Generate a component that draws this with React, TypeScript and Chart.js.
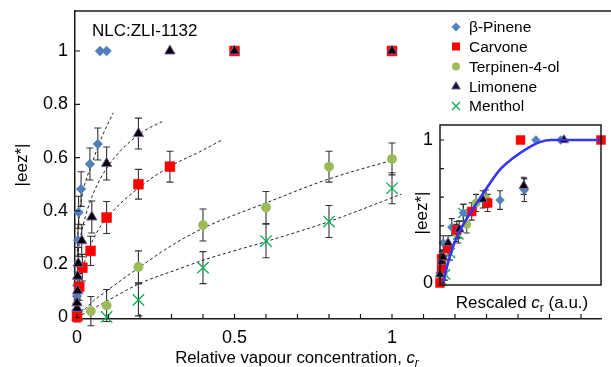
import React, { useEffect, useRef } from 'react';
import { Chart, registerables } from 'chart.js';
Chart.register(...registerables);

const FONT = '"Liberation Sans", Arial, Helvetica, sans-serif';

// ---------- main chart data ----------
const pineneX = [0.0, 0.0, 0.001, 0.003, 0.005, 0.013, 0.041, 0.066, 0.073, 0.094];
const pineneY = [0.05, 0.08, 0.12, 0.29, 0.395, 0.482, 0.576, 0.651, 1, 1];
const pineneErr = [0.04, 0.05, 0.05, 0.06, 0.06, 0.065, 0.06, 0.06, 0, 0];

const carvoneX = [0.0, 0.007, 0.017, 0.043, 0.094, 0.195, 0.295, 0.5, 1.0];
const carvoneY = [0.003, 0.115, 0.187, 0.25, 0.375, 0.5, 0.566, 1, 1];
const carvoneErr = [0.02, 0.05, 0.05, 0.055, 0.06, 0.056, 0.058, 0, 0];

const terpX = [0.044, 0.094, 0.195, 0.4, 0.6, 0.8, 1.0];
const terpY = [0.024, 0.045, 0.19, 0.347, 0.413, 0.566, 0.595];
const terpErr = [0.055, 0.06, 0.06, 0.06, 0.06, 0.058, 0.06];

const limX = [0.0, 0.0, 0.002, 0.002, 0.004, 0.015, 0.047, 0.094, 0.195, 0.295, 0.5, 1.0];
const limY = [0.035, 0.055, 0.1, 0.155, 0.203, 0.288, 0.377, 0.578, 0.69, 1, 1, 1];
const limErr = [0.03, 0.04, 0.05, 0.05, 0.06, 0.06, 0.06, 0.062, 0.058, 0, 0, 0];

const mentholX = [0.002, 0.094, 0.195, 0.4, 0.6, 0.8, 1.0];
const mentholY = [0.01, 0.002, 0.066, 0.187, 0.287, 0.36, 0.485];
const mentholErr = [0.02, 0, 0.06, 0.06, 0.063, 0.06, 0.058];

// dashed fit curves
const pineneFitX = [0, 0.001, 0.004, 0.01, 0.02, 0.047, 0.08, 0.115];
const pineneFitY = [0, 0.22, 0.33, 0.41, 0.478, 0.576, 0.68, 0.768];
const limFitX = [0, 0.002, 0.01, 0.02, 0.05, 0.1, 0.2, 0.27];
const limFitY = [0, 0.17, 0.29, 0.35, 0.46, 0.57, 0.69, 0.735];
const carvoneFitX = [0, 0.005, 0.02, 0.05, 0.1, 0.2, 0.3, 0.39, 0.46];
const carvoneFitY = [0, 0.1, 0.19, 0.29, 0.38, 0.49, 0.57, 0.622, 0.666];
const terpFitX = [0, 0.05, 0.1, 0.2, 0.3, 0.4, 0.6, 0.8, 1.015];
const terpFitY = [0, 0.06, 0.105, 0.19, 0.27, 0.335, 0.43, 0.52, 0.595];
const mentholFitX = [0, 0.1, 0.2, 0.33, 0.4, 0.6, 0.8, 1.03];
const mentholFitY = [0, 0.065, 0.128, 0.185, 0.215, 0.285, 0.36, 0.463];

const xTickValues = [0, 0.1, 0.2, 0.3, 0.4, 0.5, 0.6, 0.7, 0.8, 0.9, 1.0, 1.1, 1.2, 1.3, 1.4, 1.5, 1.6];
const xTickLabels = ['0', '', '', '', '', '0.5', '', '', '', '', '1', '', '', '', '', '', ''];
const yTickValues = [0, 0.2, 0.4, 0.6, 0.8, 1];
const yTickLabels = ['0', '0.2', '0.4', '0.6', '0.8', '1'];

const seriesNames = ['β-Pinene', 'Carvone', 'Terpinen-4-ol', 'Limonene', 'Menthol'];

// ---------- inset data ----------
const insetPineneX = [0.0, 0.02, 0.073, 0.145, 0.373, 0.524, 0.596, 0.75];
const insetPineneY = [0.07, 0.28, 0.39, 0.49, 0.58, 0.65, 1, 1];
const insetPineneErr = [0.04, 0.05, 0.06, 0.06, 0.065, 0.08, 0, 0];
const insetCarvoneX = [0.0, 0.01, 0.01, 0.05, 0.104, 0.197, 0.296, 0.5, 1.0];
const insetCarvoneY = [0.0, 0.1, 0.17, 0.24, 0.37, 0.5, 0.56, 1, 1];
const insetCarvoneErr = [0.02, 0.04, 0.05, 0.05, 0.06, 0.06, 0.06, 0, 0];
const insetTerpX = [0.02, 0.1, 0.166, 0.224, 0.286];
const insetTerpY = [0.06, 0.35, 0.41, 0.56, 0.59];
const insetTerpErr = [0.04, 0.06, 0.06, 0.06, 0.06];
const insetLimX = [0.0, 0.01, 0.02, 0.05, 0.12, 0.265, 0.52, 0.77];
const insetLimY = [0.06, 0.15, 0.18, 0.28, 0.375, 0.585, 0.68, 1];
const insetLimErr = [0.03, 0.04, 0.05, 0.05, 0.06, 0.06, 0.06, 0];
const insetMentholX = [0.01, 0.031, 0.062, 0.114, 0.145];
const insetMentholY = [0.02, 0.06, 0.21, 0.34, 0.49];
const insetMentholErr = [0.03, 0.04, 0.05, 0.06, 0.06];
const insetCurveX = [0.02, 0.04, 0.07, 0.1, 0.15, 0.2, 0.27, 0.37, 0.45, 0.54, 0.62, 0.69, 1.0];
const insetCurveY = [0, 0.1, 0.22, 0.31, 0.42, 0.51, 0.63, 0.79, 0.87, 0.94, 0.985, 1, 1];
const insetYTickValues = [0, 0.2, 0.4, 0.6, 0.8, 1];
const insetYTickLabels = ['0', '', '', '', '', '1'];

// ---------- styles ----------
const PINENE_C = '#4F81BD';
const CARVONE_C = '#FF0000';
const TERP_C = '#9BBB59';
const LIM_C = '#000000';
const LIM_EDGE = '#7F5FA8';
const MENTHOL_C = '#00B050';
const AXIS_C = '#1a1a1a';

const pts = (xs: number[], ys: number[]) => xs.map((x, i) => ({ x, y: ys[i] }));

function markerSets(s: number) {
  return [
    { name: seriesNames[0], pointStyle: 'rectRot', pointRadius: 4.9 * s, pointBackgroundColor: PINENE_C, pointBorderColor: PINENE_C, pointBorderWidth: 0.5, order: 3 },
    { name: seriesNames[1], pointStyle: 'rect', pointRadius: 7 * s, pointBackgroundColor: CARVONE_C, pointBorderColor: CARVONE_C, pointBorderWidth: 0.5, order: 2 },
    { name: seriesNames[2], pointStyle: 'circle', pointRadius: 4.7 * s, pointBackgroundColor: TERP_C, pointBorderColor: TERP_C, pointBorderWidth: 0.5, order: 4 },
    { name: seriesNames[3], pointStyle: 'triangle', pointRadius: 6 * s, pointBackgroundColor: LIM_C, pointBorderColor: LIM_EDGE, pointBorderWidth: 1, order: 1 },
    { name: seriesNames[4], pointStyle: 'crossRot', pointRadius: 8 * s, pointBackgroundColor: MENTHOL_C, pointBorderColor: MENTHOL_C, pointBorderWidth: 1.3, order: 5 },
  ];
}

function scatterDataset(m: any, xs: number[], ys: number[], errs: number[]) {
  return {
    label: m.name,
    data: pts(xs, ys),
    errs,
    showLine: false,
    clip: false,
    pointStyle: m.pointStyle,
    pointRadius: m.pointRadius,
    pointHoverRadius: m.pointRadius,
    pointBackgroundColor: m.pointBackgroundColor,
    pointBorderColor: m.pointBorderColor,
    pointBorderWidth: m.pointBorderWidth,
    order: m.order,
  };
}

function fitDataset(xs: number[], ys: number[], extra: any = {}) {
  return {
    label: 'fit',
    data: pts(xs, ys),
    showLine: true,
    pointRadius: 0,
    borderColor: '#222',
    borderWidth: 1,
    borderDash: [3, 2.5],
    tension: 0.4,
    cubicInterpolationMode: 'monotone',
    order: 10,
    ...extra,
  };
}

// Maps the value range onto the pixel frame of the reference after the layout is known.
const pixelMapPlugin = {
  id: 'pixelMap',
  afterLayout(chart: any, _args: any, opts: any) {
    if (!opts || !opts.x) return;
    const { left, right, top, bottom } = chart.chartArea;
    const sx = chart.scales.x;
    const kx = (opts.x[1] - opts.x[0]);
    sx.min = (left - opts.x[0]) / kx;
    sx.max = (right - opts.x[0]) / kx;
    sx.configure();
    const sy = chart.scales.y;
    const ky = (opts.y[0] - opts.y[1]);
    sy.max = (opts.y[0] - top) / ky;
    sy.min = (opts.y[0] - bottom) / ky;
    sy.configure();
  },
};

const errorBarPlugin = {
  id: 'errorBars',
  beforeDatasetsDraw(chart: any, _args: any, opts: any) {
    const { ctx, scales } = chart;
    const cap = (opts && opts.cap) || 3.5;
    ctx.save();
    ctx.strokeStyle = '#333';
    ctx.lineWidth = 1.1;
    chart.data.datasets.forEach((ds: any) => {
      if (!ds.errs) return;
      ds.data.forEach((p: any, j: number) => {
        const e = ds.errs[j];
        if (!e) return;
        const x = scales.x.getPixelForValue(p.x);
        const y1 = scales.y.getPixelForValue(p.y + e);
        const y2 = scales.y.getPixelForValue(p.y - e);
        ctx.beginPath();
        ctx.moveTo(x, y1); ctx.lineTo(x, y2);
        ctx.moveTo(x - cap, y1); ctx.lineTo(x + cap, y1);
        ctx.moveTo(x - cap, y2); ctx.lineTo(x + cap, y2);
        ctx.stroke();
      });
    });
    ctx.restore();
  },
};

function drawMarker(ctx: CanvasRenderingContext2D, idx: number, x: number, y: number) {
  ctx.save();
  ctx.beginPath();
  if (idx === 0) {
    const s = 4.5;
    ctx.fillStyle = PINENE_C;
    ctx.moveTo(x - s, y); ctx.lineTo(x, y - s); ctx.lineTo(x + s, y); ctx.lineTo(x, y + s); ctx.closePath(); ctx.fill();
  } else if (idx === 1) {
    ctx.fillStyle = CARVONE_C;
    ctx.fillRect(x - 4, y - 4, 8, 8);
  } else if (idx === 2) {
    ctx.fillStyle = TERP_C;
    ctx.arc(x, y, 4, 0, Math.PI * 2); ctx.fill();
  } else if (idx === 3) {
    const r = 5;
    ctx.fillStyle = '#111133';
    ctx.strokeStyle = LIM_EDGE;
    ctx.lineWidth = 1;
    ctx.moveTo(x, y - r);
    ctx.lineTo(x + r * 0.866, y + r * 0.5);
    ctx.lineTo(x - r * 0.866, y + r * 0.5);
    ctx.closePath(); ctx.fill(); ctx.stroke();
  } else {
    const s = 4;
    ctx.strokeStyle = MENTHOL_C;
    ctx.lineWidth = 1.2;
    ctx.moveTo(x - s, y - s); ctx.lineTo(x + s, y + s);
    ctx.moveTo(x + s, y - s); ctx.lineTo(x - s, y + s);
    ctx.stroke();
  }
  ctx.restore();
}

function drawRich(ctx: CanvasRenderingContext2D, parts: { t: string; font: string; dy: number }[], cx: number, baseline: number) {
  let total = 0;
  parts.forEach((p) => { ctx.font = p.font; total += ctx.measureText(p.t).width; });
  let x = cx - total / 2;
  ctx.textAlign = 'left';
  ctx.textBaseline = 'alphabetic';
  parts.forEach((p) => {
    ctx.font = p.font;
    ctx.fillText(p.t, x, baseline + p.dy);
    x += ctx.measureText(p.t).width;
  });
}

const mainFramePlugin = {
  id: 'mainFrame',
  afterDraw(chart: any) {
    const { ctx, chartArea, scales } = chart;
    const { left, right, top, bottom } = chartArea;
    ctx.save();
    ctx.strokeStyle = AXIS_C;
    ctx.lineWidth = 1.5;
    ctx.beginPath();
    ctx.moveTo(left - 0.75, top); ctx.lineTo(Math.max(right, 611) + 2, top);
    ctx.stroke();
    ctx.lineWidth = 1.2;
    ctx.beginPath();
    yTickValues.forEach((v) => {
      const py = scales.y.getPixelForValue(v);
      ctx.moveTo(left, py); ctx.lineTo(left + 5, py);
    });
    xTickValues.forEach((v) => {
      const px = scales.x.getPixelForValue(v);
      ctx.moveTo(px, bottom); ctx.lineTo(px, bottom - 5);
    });
    ctx.stroke();

    ctx.fillStyle = '#000';
    ctx.font = `17px ${FONT}`;
    ctx.textAlign = 'left';
    ctx.textBaseline = 'alphabetic';
    ctx.fillText('NLC:ZLI-1132', 92, 36);

    // x title
    drawRich(ctx, [
      { t: 'Relative vapour concentration, ', font: `16.8px ${FONT}`, dy: 0 },
      { t: 'c', font: `italic 16.8px ${FONT}`, dy: 0 },
      { t: 'r', font: `italic 12px ${FONT}`, dy: 4 },
    ], 297, 363);

    // y title
    ctx.save();
    ctx.translate(22, 165);
    ctx.rotate(-Math.PI / 2);
    ctx.font = `17px ${FONT}`;
    ctx.textAlign = 'center';
    ctx.textBaseline = 'middle';
    ctx.fillText('|eez*|', 0, 0);
    ctx.restore();

    // legend
    const rows = [27, 46.5, 66.5, 86.5, 106];
    ctx.font = `15.5px ${FONT}`;
    ctx.textAlign = 'left';
    ctx.textBaseline = 'middle';
    seriesNames.forEach((n, i) => {
      drawMarker(ctx, i, 456, rows[i]);
      ctx.fillStyle = '#000';
      ctx.fillText(n, 469, rows[i] + 1);
    });
    ctx.restore();
  },
};

const insetFramePlugin = {
  id: 'insetFrame',
  beforeDraw(chart: any) {
    const { ctx, chartArea } = chart;
    ctx.save();
    ctx.fillStyle = '#fff';
    ctx.fillRect(chartArea.left, chartArea.top, chartArea.width, chartArea.height);
    ctx.restore();
  },
  afterDraw(chart: any) {
    const { ctx, chartArea, scales } = chart;
    const { left, right, top, bottom } = chartArea;
    ctx.save();
    ctx.strokeStyle = AXIS_C;
    ctx.lineWidth = 1.5;
    ctx.strokeRect(left, top, right - left, bottom - top);
    ctx.lineWidth = 1.2;
    ctx.beginPath();
    insetYTickValues.forEach((v) => {
      const py = scales.y.getPixelForValue(v);
      ctx.moveTo(left, py); ctx.lineTo(left + 4, py);
    });
    ctx.stroke();
    ctx.fillStyle = '#000';
    drawRich(ctx, [
      { t: 'Rescaled ', font: `17px ${FONT}`, dy: 0 },
      { t: 'c', font: `italic 17px ${FONT}`, dy: 0 },
      { t: 'r', font: `12px ${FONT}`, dy: 4 },
      { t: ' (a.u.)', font: `17px ${FONT}`, dy: 0 },
    ], 122, 193);
    ctx.save();
    ctx.translate(22, 98);
    ctx.rotate(-Math.PI / 2);
    ctx.font = `17px ${FONT}`;
    ctx.textAlign = 'center';
    ctx.textBaseline = 'middle';
    ctx.fillText('|eez*|', 0, 0);
    ctx.restore();
    ctx.restore();
  },
};

const noPadY = (w: number) => (s: any) => { s.width = w; s.paddingTop = 0; s.paddingBottom = 0; };
const noPadX = (h: number) => (s: any) => { s.height = h; s.paddingLeft = 0; s.paddingRight = 0; };

function mainConfig(): any {
  const m = markerSets(1);
  return {
    type: 'scatter',
    data: {
      datasets: [
        fitDataset(pineneFitX, pineneFitY),
        fitDataset(limFitX, limFitY),
        fitDataset(carvoneFitX, carvoneFitY),
        fitDataset(terpFitX, terpFitY),
        fitDataset(mentholFitX, mentholFitY),
        scatterDataset(m[0], pineneX, pineneY, pineneErr),
        scatterDataset(m[1], carvoneX, carvoneY, carvoneErr),
        scatterDataset(m[2], terpX, terpY, terpErr),
        scatterDataset(m[3], limX, limY, limErr),
        scatterDataset(m[4], mentholX, mentholY, mentholErr),
      ],
    },
    options: {
      responsive: false,
      animation: false,
      devicePixelRatio: 1,
      layout: { padding: { top: 11, right: 0, left: 0, bottom: 0 } },
      plugins: {
        legend: { display: false },
        tooltip: { enabled: false },
        errorBars: { cap: 3.5 },
        pixelMap: { x: [77, 392], y: [317.5, 51] },
      },
      scales: {
        x: {
          type: 'linear',
          min: -0.006,
          max: 1.695,
          afterBuildTicks: (s: any) => { s.ticks = xTickValues.map((v) => ({ value: v })); },
          afterFit: noPadX(48),
          ticks: {
            autoSkip: false,
            maxRotation: 0,
            padding: 8,
            color: '#000',
            font: { family: FONT, size: 18 },
            callback: (_v: any, i: number) => xTickLabels[i],
          },
          grid: { display: false, drawTicks: false },
          border: { display: true, color: AXIS_C, width: 1.5 },
        },
        y: {
          type: 'linear',
          min: -0.0056,
          max: 1.15,
          afterBuildTicks: (s: any) => { s.ticks = yTickValues.map((v) => ({ value: v })); },
          afterFit: noPadY(75),
          ticks: {
            autoSkip: false,
            padding: 7,
            color: '#000',
            font: { family: FONT, size: 18 },
            callback: (_v: any, i: number) => yTickLabels[i],
          },
          grid: { display: false, drawTicks: false },
          border: { display: true, color: AXIS_C, width: 1.5 },
        },
      },
    },
    plugins: [pixelMapPlugin, errorBarPlugin, mainFramePlugin],
  };
}

function insetConfig(): any {
  const m = markerSets(0.9);
  return {
    type: 'scatter',
    data: {
      datasets: [
        fitDataset(insetCurveX, insetCurveY, { borderColor: '#3535F2', borderWidth: 2.6, borderDash: [], order: 0 }),
        scatterDataset(m[0], insetPineneX, insetPineneY, insetPineneErr),
        scatterDataset(m[1], insetCarvoneX, insetCarvoneY, insetCarvoneErr),
        scatterDataset(m[2], insetTerpX, insetTerpY, insetTerpErr),
        scatterDataset(m[3], insetLimX, insetLimY, insetLimErr),
        scatterDataset(m[4], insetMentholX, insetMentholY, insetMentholErr),
      ],
    },
    options: {
      responsive: false,
      animation: false,
      devicePixelRatio: 1,
      layout: { padding: { top: 10, right: 10, left: 0, bottom: 30 } },
      plugins: {
        legend: { display: false },
        tooltip: { enabled: false },
        errorBars: { cap: 3 },
        pixelMap: { x: [40, 201], y: [168, 25] },
      },
      scales: {
        x: { type: 'linear', min: 0, max: 1, display: false },
        y: {
          type: 'linear',
          min: -0.014,
          max: 1.105,
          afterBuildTicks: (s: any) => { s.ticks = insetYTickValues.map((v) => ({ value: v })); },
          afterFit: noPadY(40),
          ticks: {
            autoSkip: false,
            padding: 7,
            color: '#000',
            font: { family: FONT, size: 18 },
            callback: (_v: any, i: number) => insetYTickLabels[i],
          },
          grid: { display: false, drawTicks: false },
          border: { display: false },
        },
      },
    },
    plugins: [pixelMapPlugin, insetFramePlugin, errorBarPlugin],
  };
}

export default function App() {
  const mainRef = useRef<HTMLCanvasElement>(null);
  const insetRef = useRef<HTMLCanvasElement>(null);
  useEffect(() => {
    document.body.style.margin = '0';
    const c1 = new Chart(mainRef.current as HTMLCanvasElement, mainConfig());
    const c2 = new Chart(insetRef.current as HTMLCanvasElement, insetConfig());
    return () => { c1.destroy(); c2.destroy(); };
  }, []);
  return (
    <div style={{ position: 'relative', width: 611, height: 367, background: '#fff', overflow: 'hidden' }}>
      <canvas ref={mainRef} width={611} height={367} style={{ position: 'absolute', left: 0, top: 0 }} />
      <canvas ref={insetRef} width={211} height={200} style={{ position: 'absolute', left: 400, top: 115 }} />
    </div>
  );
}
